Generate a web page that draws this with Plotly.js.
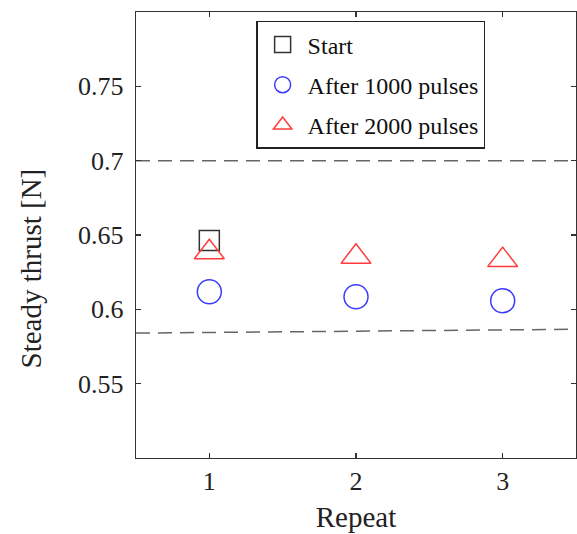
<!DOCTYPE html>
<html>
<head>
<meta charset="utf-8">
<script src="https://cdn.plot.ly/plotly-3.0.1.min.js"></script>
<style>html,body{margin:0;padding:0;background:#fff;}#chart{width:577px;height:534px;}</style>
</head>
<body>
<div id="chart"></div>
<script>
// Data
const repeats = [1, 2, 3];
const startThrust = [0.6463, null, null];
const after1000 = [0.6118, 0.6085, 0.6058];
const after2000 = [0.6384, 0.6353, 0.6331];
const seriesNames = ['Start', 'After 1000 pulses', 'After 2000 pulses'];
const limitX = [0.5, 3.5];
const upperLimit = [0.7, 0.7];
const lowerLimit = [0.584, 0.5866];
const yTicks = [0.55, 0.6, 0.65, 0.7, 0.75];
const yTickText = ['0.55', '0.6', '0.65', '0.7', '0.75'];
const xTitle = 'Repeat';
const yTitle = 'Steady thrust [N]';

const font = 'Liberation Serif, Times New Roman, serif';
const dashStyle = {color: '#666', width: 1.5, dash: '14px,8px'};

const traces = [
  {x: limitX, y: upperLimit, mode: 'lines', line: dashStyle, showlegend: false, hoverinfo: 'skip'},
  {x: limitX, y: lowerLimit, mode: 'lines', line: dashStyle, showlegend: false, hoverinfo: 'skip'},
  {x: repeats, y: startThrust, name: seriesNames[0], mode: 'markers', legendgroup: 'a',
   marker: {symbol: 'square-open', size: 20, color: '#333', line: {width: 1.5}}},
  {x: repeats, y: after1000, name: seriesNames[1], mode: 'markers', legendgroup: 'b',
   marker: {symbol: 'circle-open', size: 24, color: '#3b3bff', line: {width: 1.5}}},
  {x: repeats, y: after2000, name: seriesNames[2], mode: 'markers', legendgroup: 'c',
   marker: {symbol: 'triangle-up-open', size: 26, color: '#ff3b3b', line: {width: 1.5}}}
];

const axisCommon = {
  showline: true, linecolor: '#333', linewidth: 1.3, mirror: 'ticks',
  ticks: 'inside', ticklen: 5, tickwidth: 1.3, tickcolor: '#333',
  showgrid: false, zeroline: false,
  tickfont: {family: font, size: 26, color: '#222'}
};

const layout = {
  width: 577, height: 534,
  margin: {l: 136, r: 1, t: 12, b: 76},
  paper_bgcolor: '#fff', plot_bgcolor: '#fff',
  font: {family: font, color: '#222'},
  xaxis: Object.assign({}, axisCommon, {
    range: [0.5, 3.5], tickvals: repeats, ticktext: repeats.map(String),
    ticklabelstandoff: -1,
    title: {text: xTitle, font: {family: font, size: 29, color: '#222'}, standoff: 12}
  }),
  yaxis: Object.assign({}, axisCommon, {
    range: [0.5, 0.8], tickvals: yTicks, ticktext: yTickText,
    ticklabelstandoff: 6
  }),
  annotations: [{
    text: yTitle, textangle: -90, showarrow: false,
    xref: 'paper', yref: 'paper', x: -0.2386, y: 0.425,
    xanchor: 'center', yanchor: 'middle',
    font: {family: font, size: 29, color: '#222'}
  }],
  showlegend: true,
  legend: {
    x: 0.273, y: 0.98, xanchor: 'left', yanchor: 'top',
    bgcolor: '#fff', bordercolor: '#222', borderwidth: 1.5,
    font: {family: font, size: 24, color: '#111'},
    traceorder: 'grouped', tracegroupgap: 6, itemwidth: 40
  }
};

Plotly.newPlot('chart', traces, layout, {displayModeBar: false, staticPlot: true});
</script>
</body>
</html>
